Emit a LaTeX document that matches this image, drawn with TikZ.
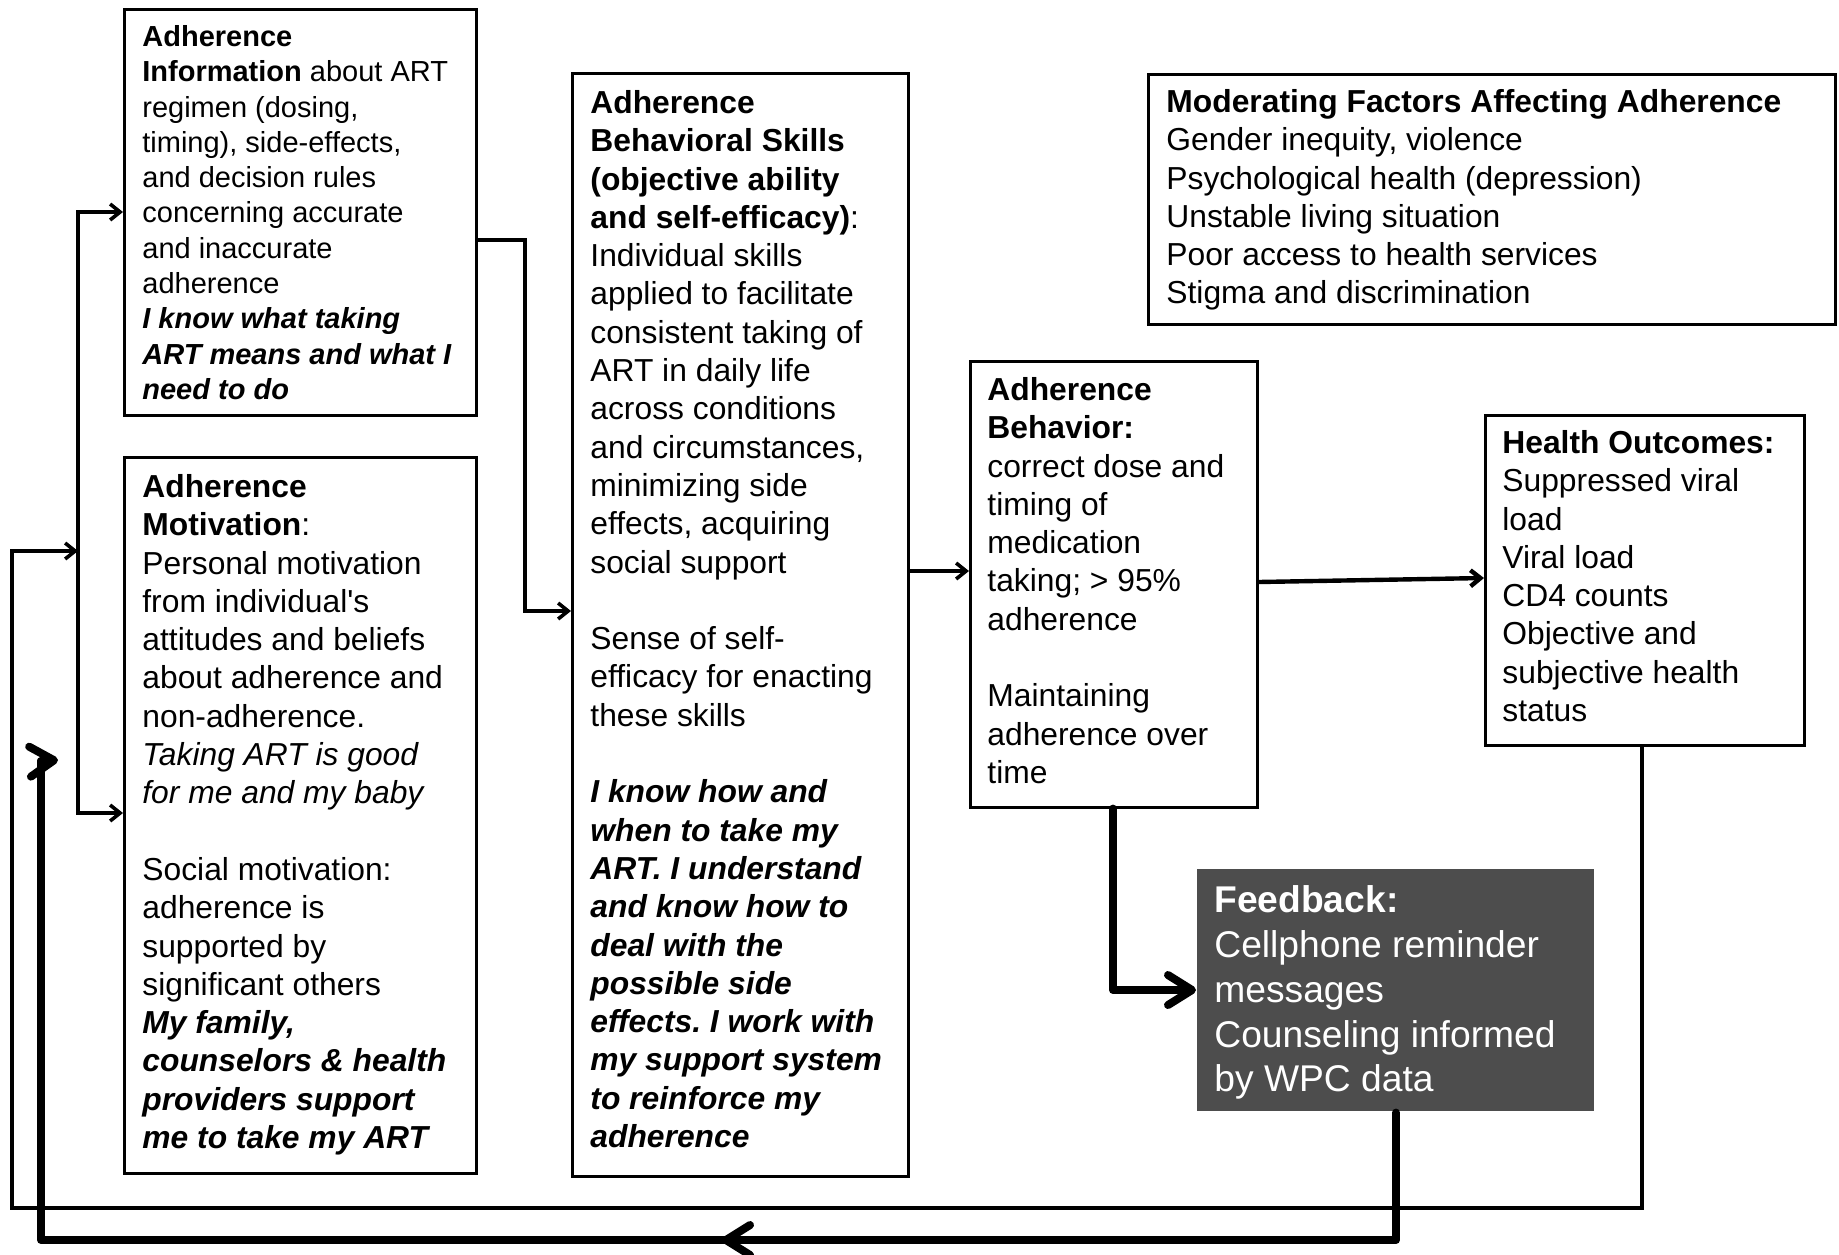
\documentclass[tikz,border=0pt]{standalone}
\usepackage{fontspec}
\setmainfont{Liberation Sans}
\newfontfamily\plainsans[Ligatures=ResetAll]{Liberation Sans}
\usetikzlibrary{arrows.meta}
\definecolor{fbgray}{RGB}{77,77,77}
\frenchspacing
\begin{document}
\begin{tikzpicture}[x=0.5pt,y=-0.5pt,
  boxst/.style={draw, line width=1.3pt, inner sep=0pt, anchor=north west},
  txt/.style={anchor=north west, inner sep=0pt, align=left, font=\fontsize{15.9}{19.15}\selectfont},
  txtsmall/.style={txt, font=\fontsize{14.5}{17.65}\selectfont},
  txtbig/.style={txt, text=white, font=\fontsize{18.6}{22.45}\selectfont},
  conn/.style={line width=1.8pt},
  thinarr/.style={conn, -{Straight Barb[length=5pt,width=8pt]}},
  thickconn/.style={line width=4pt, line join=round, line cap=round},
  thickarr/.style={thickconn, -{Straight Barb[length=12pt,width=15pt,round]}}
]
\useasboundingbox (0,0) rectangle (1839,1254);

% boxes
\node[boxst, minimum width=176pt, minimum height=203pt] (info) at (123,8) {};
\node[boxst, minimum width=176pt, minimum height=358pt] (motiv) at (123,456) {};
\node[boxst, minimum width=168pt, minimum height=551.5pt] (skills) at (571,72) {};
\node[boxst, minimum width=143.5pt, minimum height=223pt] (behav) at (969,360) {};
\node[boxst, minimum width=159.5pt, minimum height=165pt] (health) at (1484,414) {};
\node[boxst, minimum width=343.5pt, minimum height=125pt] (moder) at (1147,73) {};
\node[boxst, draw=none, fill=fbgray, minimum width=198.5pt, minimum height=121pt] (fb) at (1196,868) {};

% texts
\node[txtsmall] (infotxt) at (142,25) {\textbf{Adherence}\\
\textbf{Information} about ART\\
regimen (dosing,\\
timing), side-effects,\\
and decision rules\\
concerning accurate\\
and inaccurate\\
adherence\\
\textbf{\textit{I know what taking}}\\
\textbf{\textit{ART means and what I}}\\
\textbf{\textit{need to do}}};

\node[txt] (motivtxt) at (142,474) {\textbf{Adherence}\\
\textbf{Motivation}:\\
Personal motivation\\
from individual{\plainsans '}s\\
attitudes and beliefs\\
about adherence and\\
non-adherence.\\
\textit{Taking ART is good}\\
\textit{for me and my baby}\\[19.15pt]
Social motivation:\\
adherence is\\
supported by\\
significant others\\
\textbf{\textit{My family,}}\\
\textbf{\textit{counselors \& health}}\\
\textbf{\textit{providers support}}\\
\textbf{\textit{me to take my ART}}};

\node[txt] (skillstxt) at (590,90) {\textbf{Adherence}\\
\textbf{Behavioral Skills}\\
\textbf{(objective ability}\\
\textbf{and self-efficacy)}:\\
Individual skills\\
applied to facilitate\\
consistent taking of\\
ART in daily life\\
across conditions\\
and circumstances,\\
minimizing side\\
effects, acquiring\\
social support\\[19.15pt]
Sense of self-\\
efficacy for enacting\\
these skills\\[19.15pt]
\textbf{\textit{I know how and}}\\
\textbf{\textit{when to take my}}\\
\textbf{\textit{ART. I understand}}\\
\textbf{\textit{and know how to}}\\
\textbf{\textit{deal with the}}\\
\textbf{\textit{possible side}}\\
\textbf{\textit{effects. I work with}}\\
\textbf{\textit{my support system}}\\
\textbf{\textit{to reinforce my}}\\
\textbf{\textit{adherence}}};

\node[txt] (behavtxt) at (987,377) {\textbf{Adherence}\\
\textbf{Behavior:}\\
correct dose and\\
timing of\\
medication\\
taking; > 95\%\\
adherence\\[19.15pt]
Maintaining\\
adherence over\\
time};

\node[txt] (healthtxt) at (1502,430) {\textbf{Health Outcomes:}\\
Suppressed viral\\
load\\
Viral load\\
CD4 counts\\
Objective and\\
subjective health\\
status};

\node[txt] (modertxt) at (1166,89) {\textbf{Moderating Factors Affecting Adherence}\\
Gender inequity, violence\\
Psychological health (depression)\\
Unstable living situation\\
Poor access to health services\\
Stigma and discrimination};

\node[txtbig] (fbtxt) at (1214,885) {\textbf{Feedback:}\\
Cellphone reminder\\
messages\\
Counseling informed\\
by WPC data};

% connectors
\coordinate (c1) at (525,240);
\coordinate (c2) at (525,611);
\draw[thinarr] (info.east |- c1) -- (c1) -- (c2) -- (skills.west |- c2);

\draw[thinarr] (skills.east |- 0,571) -- (behav.west |- 0,571);

\draw[line width=2.2pt, -{Straight Barb[length=5pt,width=8pt]}] (behav.east |- 0,582) -- (health.west |- 0,578);

% trunk into info and motivation
\coordinate (t1) at (78,212);
\coordinate (t2) at (78,813);
\draw[conn, {Straight Barb[length=5pt,width=8pt]}-{Straight Barb[length=5pt,width=8pt]}] (info.west |- t1) -- (t1) -- (t2) -- (motiv.west |- t2);

% outer thin loop from health outcomes
\coordinate (l1) at (1642,1208);
\coordinate (l2) at (12,1208);
\coordinate (l3) at (12,551);
\draw[thinarr] (health.south -| l1) -- (l1) -- (l2) -- (l3) -- (t1 |- l3);

% thick: behavior to feedback
\coordinate (b1) at (1113,990);
\draw[thickarr] (behav.south -| b1) -- (b1) -- (fb.west |- b1);

% thick: feedback back to motivation
\coordinate (f1) at (1396,1240);
\coordinate (f2) at (41,1240);
\coordinate (f3) at (41,761);
\coordinate (f4) at (58,760);
\draw[thickconn] (fb.south -| f1) -- (f1) -- (f2) -- (f3);
\draw[thickarr] (f3) -- (f4);
\coordinate (m1) at (760,1240);
\coordinate (m2) at (722,1240);
\draw[thickarr] (m1) -- (m2);
\end{tikzpicture}
\end{document}
